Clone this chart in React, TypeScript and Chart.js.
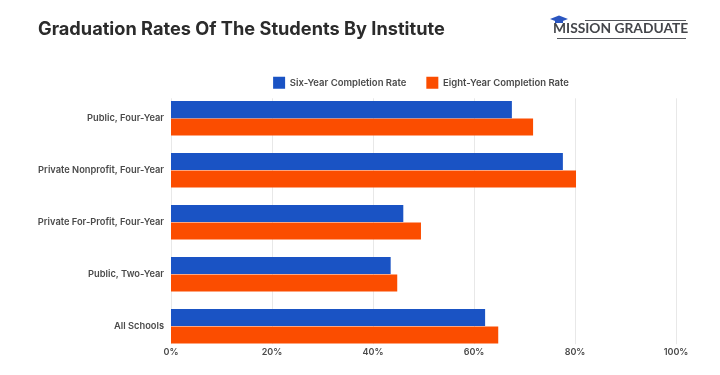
import React, { useEffect, useRef } from "react";
import { Chart, registerables } from "chart.js";

Chart.register(...registerables);

const categories = [
  "Public, Four-Year",
  "Private Nonprofit, Four-Year",
  "Private For-Profit, Four-Year",
  "Public, Two-Year",
  "All Schools",
];
const sixYear = [67.5, 77.6, 46, 43.5, 62.2];
const eightYear = [71.7, 80.2, 49.5, 44.8, 64.8];
const FONT = "Inter, 'Open Sans', sans-serif";
const LOGO_FONT = "Lato, 'Open Sans', sans-serif";

const layoutPlugin = {
  id: "layoutTweaks",
  afterLayout(chart: any) {
    chart.legend.left += 64;
    chart.legend.right += 64;
    chart.legend.top += 6.5;
    chart.legend.bottom += 6.5;
    chart.scales.x.top -= 5;
    chart.scales.x.bottom -= 5;
  },
  beforeDatasetsDraw(chart: any) {
    const c = chart.ctx;
    const area = chart.chartArea;
    const x = chart.scales.x;
    c.save();
    c.strokeStyle = "#e8e8e8";
    c.lineWidth = 1;
    x.ticks.forEach((_: any, i: number) => {
      const px = Math.round(x.getPixelForTick(i)) + 0.5;
      c.beginPath();
      c.moveTo(px, area.top + 6);
      c.lineTo(px, area.bottom - 8);
      c.stroke();
    });
    c.restore();
  },
  afterDraw(chart: any) {
    const c = chart.ctx;
    c.save();
    c.font = `bold 13.8px ${LOGO_FONT}`;
    c.fillStyle = "#44464b";
    c.textBaseline = "middle";
    c.textAlign = "left";
    c.fillText("MISSION GRADUATE", 553, 29);
    c.strokeStyle = "#55575c";
    c.lineWidth = 1;
    c.beginPath();
    c.moveTo(585, 20.5); c.lineTo(686, 20.5);
    c.moveTo(557, 38.5); c.lineTo(686, 38.5);
    c.stroke();
    c.fillStyle = "#2a55c0";
    c.beginPath();
    c.moveTo(550, 19); c.lineTo(559, 15.5); c.lineTo(568, 19); c.lineTo(559, 22.5);
    c.closePath();
    c.fill();
    c.fillRect(555, 20, 8, 3);
    c.restore();
  },
};

export default function App() {
  const ref = useRef<HTMLCanvasElement>(null);
  useEffect(() => {
    const chart = new Chart(ref.current!, {
      type: "bar",
      data: {
        labels: categories,
        datasets: [
          { label: "Six-Year Completion Rate", data: sixYear, backgroundColor: "#1a53c4" },
          { label: "Eight-Year Completion Rate", data: eightYear, backgroundColor: "#fb4d00" },
        ],
      },
      plugins: [layoutPlugin],
      options: {
        indexAxis: "y",
        responsive: false,
        animation: false,
        layout: { padding: { left: 38, right: 44, top: 19, bottom: 12 } },
        datasets: { bar: { categoryPercentage: 0.67, barPercentage: 0.98 } },
        scales: {
          x: {
            min: 0,
            max: 100,
            ticks: {
              stepSize: 20,
              callback: (v: any) => `${v}%`,
              color: "#4a4a4a",
              font: { family: FONT, size: 9, weight: "600" },
              maxRotation: 0,
              padding: 0,
            },
            grid: { display: false, drawTicks: false },
            border: { display: false },
          },
          y: {
            afterFit(s: any) { s.width = 133; },
            ticks: {
              color: "#4a4a4a",
              font: { family: FONT, size: 9.3, weight: "600" },
              padding: 7,
            },
            grid: { display: false, drawTicks: false },
            border: { display: false },
          },
        },
        plugins: {
          title: {
            display: true,
            text: "Graduation Rates Of The Students By Institute",
            align: "start",
            color: "#2b2b2b",
            font: { family: FONT, size: 18.2, weight: "bold" },
            padding: { top: 0, bottom: 9.5 },
          },
          legend: {
            position: "top",
            labels: {
              boxWidth: 12,
              boxHeight: 12,
              color: "#4a4a4a",
              font: { family: FONT, size: 9.5, weight: "600" },
              padding: 20,
            },
          },
          tooltip: { enabled: false },
        },
      },
    } as any);
    return () => chart.destroy();
  }, []);
  return (
    <div style={{ position: "absolute", left: 0, top: 0, width: 720, height: 375, background: "#fff" }}>
      <canvas ref={ref} width={720} height={375} style={{ display: "block" }} />
    </div>
  );
}
